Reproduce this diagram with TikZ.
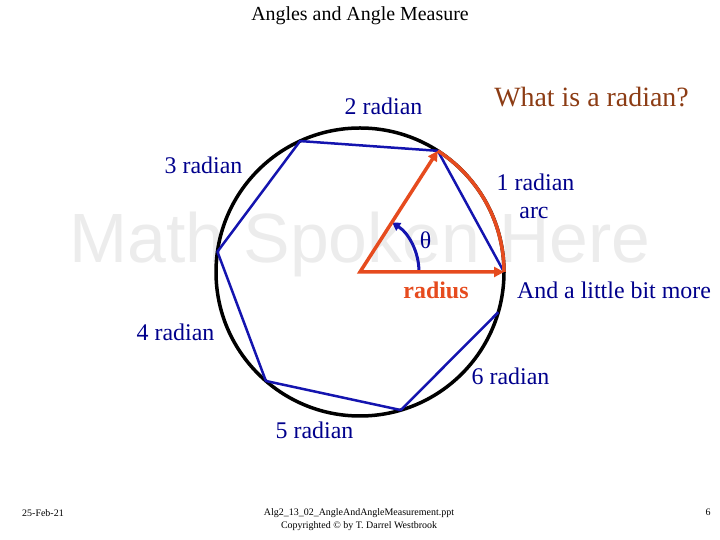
\documentclass[tikz,border=0pt]{standalone}
\usepackage{fontspec}
\setmainfont{Liberation Serif}
\newfontfamily\markfont{Liberation Sans}
\usetikzlibrary{arrows.meta}
\definecolor{lineblue}{RGB}{20,20,175}
\definecolor{textblue}{RGB}{0,0,140}
\definecolor{radred}{RGB}{230,75,30}
\definecolor{qbrown}{RGB}{140,60,20}
\definecolor{markgray}{RGB}{236,236,236}
\tikzset{
  rad/.style={text=textblue,font=\fontsize{24}{28}\selectfont,anchor=base,inner sep=0pt},
  foot/.style={font=\fontsize{10}{12}\selectfont,anchor=base,inner sep=0pt},
  chord/.style={lineblue,line width=2.5bp,line join=round},
  radline/.style={radred,line width=3.5bp}
}
\begin{document}
\begin{tikzpicture}[x=1bp,y=1bp]
\useasboundingbox (0,0) rectangle (720,540);
\node[anchor=base,inner sep=0pt,text=markgray,font=\markfont\fontsize{70}{80}\selectfont] (mark) at (360,277) {Math Spoken Here};

\coordinate (O) at (360,268);
\foreach \k in {0,...,6}
  \coordinate (P\k) at ([shift={({\k*57.2958}:144)}]O);

\draw[line width=3.5bp] (O) circle (144);
\draw[chord] (P0) -- (P1) -- (P2) -- (P3) -- (P4) -- (P5) -- (P6);
\draw[lineblue,line width=3bp,-{Triangle[length=8bp,width=9bp]}] ([shift={(0:59)}]O) arc[start angle=0,end angle=57,radius=59];

\draw[radline] (P0) arc[start angle=0,end angle=57.2958,radius=144];
\draw[radline,line join=miter,{Triangle[length=10bp,width=10bp]}-{Triangle[length=10bp,width=10bp]}] (P1) -- (O) -- (P0);

\node[anchor=base,inner sep=0pt,font=\fontsize{20}{24}\selectfont] (title) at (360,519) {Angles and Angle Measure};
\node[anchor=base,inner sep=0pt,text=qbrown,font=\fontsize{28}{32}\selectfont] (quest) at (591.5,433) {What is a radian?};
\node[rad] (r2) at (383.5,425) {2 radian};
\node[rad] (r3) at (203.5,366) {3 radian};
\node[rad] (r1) at (535.5,349) {1 radian};
\node[rad] (arc) at (534,321) {arc};
\node[rad] (theta) at (425.5,291) {θ};
\node[rad,text=radred,font=\bfseries\fontsize{24}{28}\selectfont] (radius) at (436,241) {radius};
\node[rad] (more) at (614,241) {And a little bit more};
\node[rad] (r4) at (175.5,199) {4 radian};
\node[rad] (r6) at (510.5,155) {6 radian};
\node[rad] (r5) at (314.5,101) {5 radian};

\node[foot] (date) at (43,23) {25-Feb-21};
\node[foot] (file) at (359,24) {Alg2\_13\_02\_AngleAndAngleMeasurement.ppt};
\node[foot] (copy) at (359,11) {Copyrighted © by T. Darrel Westbrook};
\node[foot] (page) at (708,24) {6};
\end{tikzpicture}
\end{document}
